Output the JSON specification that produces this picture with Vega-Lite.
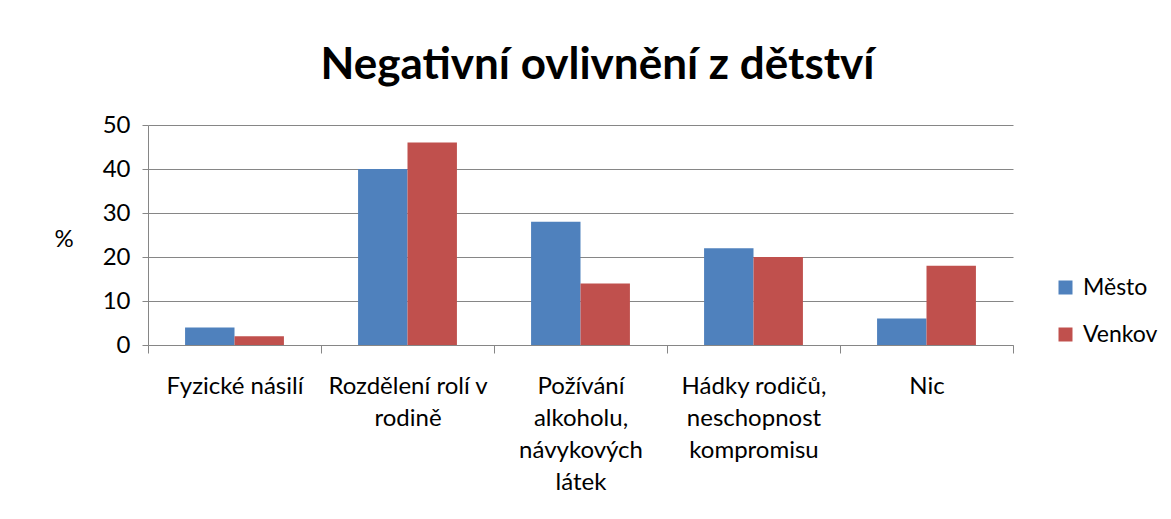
{
  "$schema": "https://vega.github.io/schema/vega-lite/v6.json",
  "autosize": {"type": "none"},
  "width": 865,
  "height": 220,
  "padding": {"left": 148, "top": 125, "right": 158, "bottom": 174},
  "background": "white",
  "config": {
    "font": "Lato",
    "view": {"stroke": null},
    "axis": {"labelFont": "Lato", "titleFont": "Lato", "labelColor": "#000000", "titleColor": "#000000"}
  },
  "title": {
    "text": "Negativní ovlivnění z dětství",
    "font": "Lato",
    "fontSize": 44,
    "fontWeight": "bold",
    "color": "#000000",
    "anchor": "middle",
    "dx": 17,
    "offset": 25
  },
  "data": {
    "values": [
      {"kategorie": "Fyzické násilí", "oblast": "Město", "procenta": 4},
      {"kategorie": "Fyzické násilí", "oblast": "Venkov", "procenta": 2},
      {"kategorie": "Rozdělení rolí v rodině", "oblast": "Město", "procenta": 40},
      {"kategorie": "Rozdělení rolí v rodině", "oblast": "Venkov", "procenta": 46},
      {"kategorie": "Požívání alkoholu, návykových látek", "oblast": "Město", "procenta": 28},
      {"kategorie": "Požívání alkoholu, návykových látek", "oblast": "Venkov", "procenta": 14},
      {"kategorie": "Hádky rodičů, neschopnost kompromisu", "oblast": "Město", "procenta": 22},
      {"kategorie": "Hádky rodičů, neschopnost kompromisu", "oblast": "Venkov", "procenta": 20},
      {"kategorie": "Nic", "oblast": "Město", "procenta": 6},
      {"kategorie": "Nic", "oblast": "Venkov", "procenta": 18}
    ]
  },
  "mark": {"type": "bar"},
  "encoding": {
    "x": {
      "field": "kategorie",
      "type": "nominal",
      "sort": null,
      "scale": {"paddingInner": 0, "paddingOuter": 0},
      "axis": {
        "title": null,
        "labelAngle": 0,
        "labelFontSize": 24,
        "labelLineHeight": 32,
        "labelPadding": 21,
        "labelBaseline": "top",
        "labelLimit": 0,
        "tickBand": "extent",
        "tickSize": 8,
        "tickColor": "#868686",
        "domainColor": "#868686",
        "grid": false,
        "labelExpr": "datum.value == 'Rozdělení rolí v rodině' ? ['Rozdělení rolí v', 'rodině'] : datum.value == 'Požívání alkoholu, návykových látek' ? ['Požívání', 'alkoholu,', 'návykových', 'látek'] : datum.value == 'Hádky rodičů, neschopnost kompromisu' ? ['Hádky rodičů,', 'neschopnost', 'kompromisu'] : datum.value"
      }
    },
    "xOffset": {
      "field": "oblast",
      "type": "nominal",
      "scale": {"paddingInner": 0, "paddingOuter": 0.75}
    },
    "y": {
      "field": "procenta",
      "type": "quantitative",
      "scale": {"domain": [0, 50], "nice": false},
      "axis": {
        "title": "%",
        "titleAngle": 0,
        "titleFontSize": 24,
        "titleFontWeight": "normal",
        "titleX": -94,
        "titleY": 126,
        "titleAlign": "left",
        "values": [0, 10, 20, 30, 40, 50],
        "labelFontSize": 24,
        "labelPadding": 12,
        "tickSize": 6,
        "tickColor": "#868686",
        "domainColor": "#868686",
        "gridColor": "#868686",
        "gridWidth": 1
      }
    },
    "color": {
      "field": "oblast",
      "type": "nominal",
      "scale": {"domain": ["Město", "Venkov"], "range": ["#4F81BD", "#C0504D"]},
      "legend": {
        "title": null,
        "orient": "none",
        "legendX": 906,
        "legendY": 151,
        "symbolType": "square",
        "symbolSize": 196,
        "symbolStrokeWidth": 0,
        "labelFontSize": 23,
        "labelFont": "Lato",
        "labelColor": "#000000",
        "rowPadding": 23,
        "labelOffset": 6
      }
    }
  }
}
